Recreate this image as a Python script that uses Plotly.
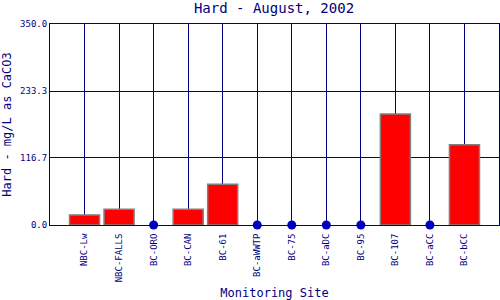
import plotly.graph_objects as go

sites = ["NBC-Lw", "NBC-FALLS", "BC-ORO", "BC-CAN", "BC-61", "BC-aWWTP",
         "BC-75", "BC-aDC", "BC-95", "BC-107", "BC-aCC", "BC-bCC"]
hardness = [17.5, 27.4, 0, 27.4, 71.0, 0, 0, 0, 0, 193.4, 0, 139.8]
y_ticks = [0.0, 116.7, 233.3, 350.0]
y_tick_labels = ["0.0", "116.7", "233.3", "350.0"]

navy = "#000080"
font = "DejaVu Sans Mono"
pos = list(range(1, len(sites) + 1))

bar_x = [p for p, v in zip(pos, hardness) if v > 0]
bar_y = [v for v in hardness if v > 0]
dot_x = [p for p, v in zip(pos, hardness) if v == 0]
dot_y = [v for v in hardness if v == 0]

fig = go.Figure()
fig.add_trace(go.Bar(x=bar_x, y=bar_y, width=0.87,
                     marker=dict(color="#FF0000", line=dict(color="#808080", width=1.5)),
                     showlegend=False))
fig.add_trace(go.Scatter(x=dot_x, y=dot_y, mode="markers",
                         marker=dict(color="#0000C0", size=9), cliponaxis=False,
                         showlegend=False))

fig.update_layout(
    width=500, height=300,
    margin=dict(l=50, r=1, t=24, b=75),
    paper_bgcolor="white", plot_bgcolor="white",
    title=dict(text="Hard - August, 2002", x=0.548, xanchor="center", y=0.972, yanchor="middle",
               font=dict(family=font, size=14, color=navy)),
    xaxis=dict(range=[0, 13], tickmode="array", tickvals=pos + [13],
               ticktext=sites + [""], tickangle=-90, automargin=False,
               tickfont=dict(family=font, size=9, color=navy),
               showgrid=True, gridcolor=navy, gridwidth=1,
               showline=True, linecolor=navy, linewidth=1, mirror=True,
               ticks="outside", ticklen=4, tickcolor="rgba(0,0,0,0)", zeroline=False,
               title=dict(text="Monitoring Site", font=dict(family=font, size=12, color=navy), standoff=10)),
    yaxis=dict(range=[0, 350], tickmode="array", tickvals=y_ticks, ticktext=y_tick_labels,
               tickfont=dict(family=font, size=9, color=navy), automargin=False,
               showgrid=True, gridcolor=navy, gridwidth=1,
               showline=True, linecolor=navy, linewidth=1, mirror=True,
               ticks="", zeroline=False,
               title=dict(text="Hard - mg/L as CaCO3", font=dict(family=font, size=12, color=navy), standoff=6)),
)

fig.write_html("out.html")
